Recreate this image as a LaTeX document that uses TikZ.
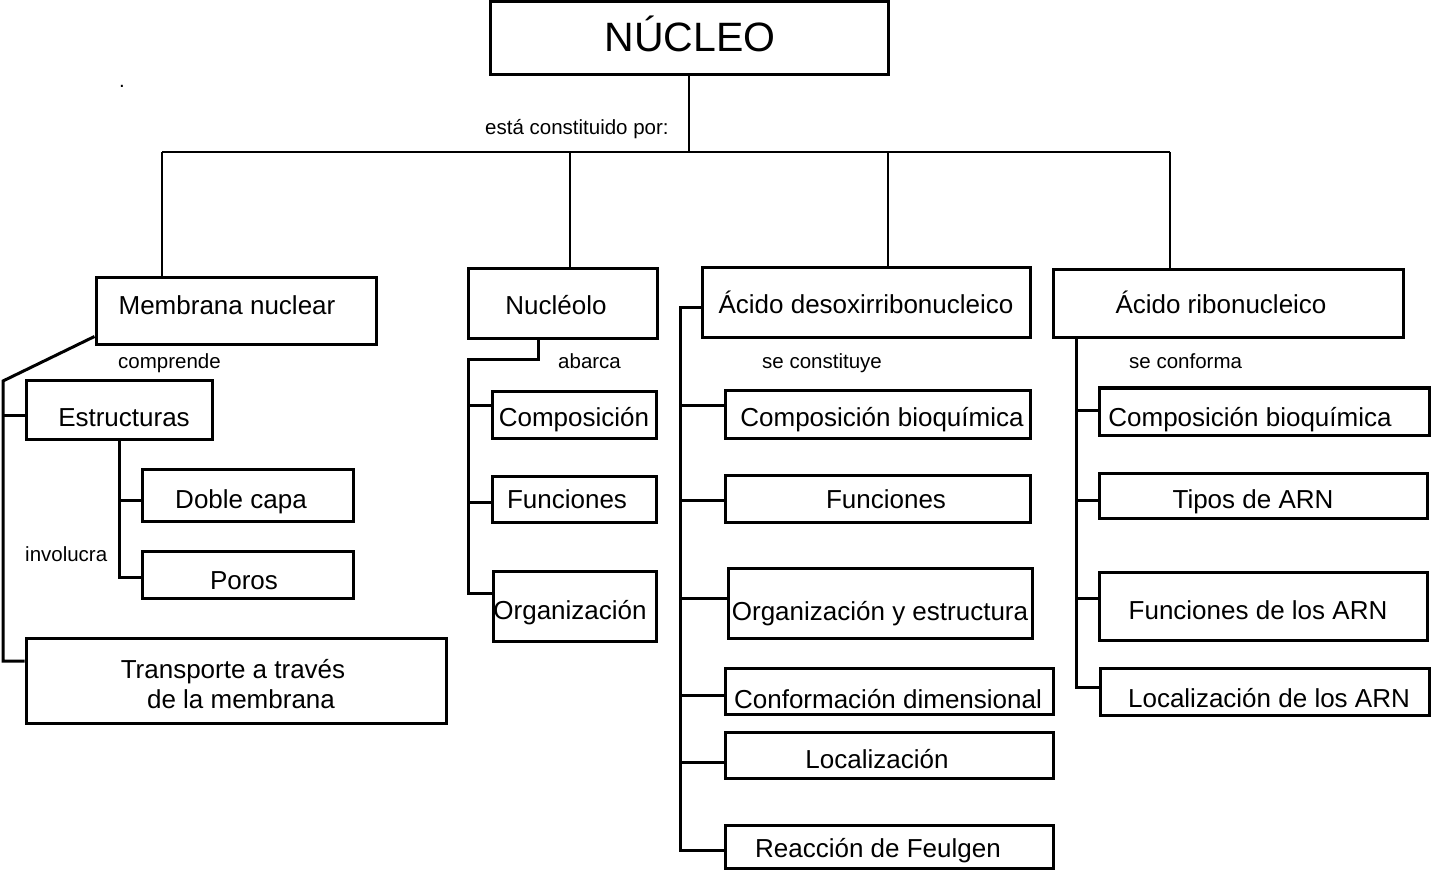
\documentclass[tikz,border=0pt]{standalone}
\usepackage{fontspec}
\setmainfont{Liberation Sans}
\begin{document}
\begin{tikzpicture}[x=1pt,y=-1pt,
  box/.style 2 args={draw, line width=3pt, inner sep=0pt, minimum width=#1pt, minimum height=#2pt},
  txt/.style={anchor=base, inner sep=0pt, font=\fontsize{26}{30}\selectfont},
  small/.style={anchor=base west, inner sep=0pt, font=\fontsize{20.5}{24}\selectfont},
  bus/.style={line width=2pt},
  link/.style={line width=3pt}]
\useasboundingbox (0,0) rectangle (1432,874);

% top concept
\node[box={398}{73}] (nucleo) at (689,38.5) {};
\node[anchor=base, inner sep=0pt, font=\fontsize{41}{46}\selectfont] (nucleo-t) at (690,52) {NÚCLEO};
\node[small] (dot) at (119,88) {.};
\node[small] (lbl-est) at (485,135) {está constituido por:};

% second level
\node[box={280}{67}] (mem) at (236,311.5) {};
\node[txt] (mem-t) at (227,315) {Membrana nuclear};
\node[box={189}{70}] (nucleolo) at (562.5,304) {};
\node[txt] (nucleolo-t) at (556,315) {Nucléolo};
\node[box={328}{70}] (adn) at (866,303) {};
\node[txt] (adn-t) at (866,314) {Ácido desoxirribonucleico};
\node[box={350}{68}] (arn) at (1228,304) {};
\node[txt] (arn-t) at (1221,314) {Ácido ribonucleico};

% bus from the nucleus
\coordinate (busL) at (162,152);
\coordinate (busR) at (1170,152);
\coordinate (bus2) at (570,152);
\coordinate (bus3) at (888,152);
\draw[bus] (nucleo.south) -- (nucleo.south |- busL);
\draw[bus] (busL) -- (busR);
\draw[bus] (busL) -- (busL |- mem.north);
\draw[bus] (bus2) -- (bus2 |- nucleolo.north);
\draw[bus] (bus3) -- (bus3 |- adn.north);
\draw[bus] (busR) -- (busR |- arn.north);

% membrana nuclear branch
\node[small] (lbl-comp) at (118,369) {comprende};
\node[box={186}{58}] (estr) at (119,410) {};
\node[txt] (estr-t) at (124,426) {Estructuras};
\node[box={211}{52}] (doble) at (247.5,495) {};
\node[txt] (doble-t) at (241,508) {Doble capa};
\node[box={211}{47}] (poros) at (247.5,574.5) {};
\node[txt] (poros-t) at (244,589) {Poros};
\node[small] (lbl-inv) at (25,561) {involucra};
\node[box={420}{85}] (trans) at (236,680.5) {};
\node[txt] (trans-t1) at (233,678) {Transporte a través};
\node[txt] (trans-t2) at (241,708) {de la membrana};

\coordinate (m0) at (3,381);
\coordinate (m1) at (3,415);
\coordinate (m2) at (3,661);
\draw[link, line join=miter] ([yshift=10pt]mem.south west) -- (m0) -- (m2) -- (m2 -| trans.west);
\draw[link] (m1) -- (m1 -| estr.west);
\coordinate (e1) at (119,500);
\coordinate (e2) at (119,577);
\draw[link] (estr.south) -- (e2) -- (e2 -| poros.west);
\draw[link] (e1) -- (e1 -| doble.west);

% nucleolo branch
\node[small] (lbl-aba) at (558,369) {abarca};
\node[box={164}{47}] (comp1) at (574,414.5) {};
\node[txt] (comp1-t) at (574,426) {Composición};
\node[box={164}{46}] (fun1) at (574,499) {};
\node[txt] (fun1-t) at (567,508) {Funciones};
\node[box={163}{70}] (org1) at (574.5,606) {};
\node[txt] (org1-t) at (570,619) {Organización};

\coordinate (n0) at (538,360);
\coordinate (n1) at (468,360);
\coordinate (n2) at (468,405);
\coordinate (n3) at (468,502);
\coordinate (n4) at (468,593);
\draw[link] (n0 |- nucleolo.south) -- (n0) -- (n1) -- (n4) -- (n4 -| org1.west);
\draw[link] (n2) -- (n2 -| comp1.west);
\draw[link] (n3) -- (n3 -| fun1.west);

% ADN branch
\node[small] (lbl-sec) at (762,369) {se constituye};
\node[box={305}{48}] (comp2) at (877.5,414) {};
\node[txt] (comp2-t) at (882,426) {Composición bioquímica};
\node[box={305}{47}] (fun2) at (877.5,498.5) {};
\node[txt] (fun2-t) at (886,508) {Funciones};
\node[box={304}{70}] (orgest) at (880,603) {};
\node[txt] (orgest-t) at (880,620) {Organización y estructura};
\node[box={328}{46}] (conf) at (889,691) {};
\node[txt] (conf-t) at (888,708) {Conformación dimensional};
\node[box={328}{46}] (loc) at (889,755) {};
\node[txt] (loc-t) at (877,768) {Localización};
\node[box={328}{43}] (feul) at (889,846.5) {};
\node[txt] (feul-t) at (878,857) {Reacción de Feulgen};

\coordinate (a0) at (680,308);
\coordinate (a1) at (680,405);
\coordinate (a2) at (680,500);
\coordinate (a3) at (680,598);
\coordinate (a4) at (680,695);
\coordinate (a5) at (680,762);
\coordinate (a6) at (680,850);
\draw[link] (a0 -| adn.west) -- (a0) -- (a6) -- (a6 -| feul.west);
\draw[link] (a1) -- (a1 -| comp2.west);
\draw[link] (a2) -- (a2 -| fun2.west);
\draw[link] (a3) -- (a3 -| orgest.west);
\draw[link] (a4) -- (a4 -| conf.west);
\draw[link] (a5) -- (a5 -| loc.west);

% ARN branch
\node[small] (lbl-con) at (1129,369) {se conforma};
\node[box={330}{47}] (comp3) at (1264,411.5) {};
\node[txt] (comp3-t) at (1250,426) {Composición bioquímica};
\node[box={328}{45}] (tipos) at (1263,495.5) {};
\node[txt] (tipos-t) at (1253,508) {Tipos de ARN};
\node[box={328}{68}] (funarn) at (1263,606) {};
\node[txt] (funarn-t) at (1258,619) {Funciones de los ARN};
\node[box={329}{47}] (locarn) at (1264.5,691.5) {};
\node[txt] (locarn-t) at (1269,707) {Localización de los ARN};

\coordinate (r0) at (1076,338);
\coordinate (r1) at (1076,410);
\coordinate (r2) at (1076,500);
\coordinate (r3) at (1076,598);
\coordinate (r4) at (1076,687);
\draw[link] (r0 |- arn.south) -- (r4) -- (r4 -| locarn.west);
\draw[link] (r1) -- (r1 -| comp3.west);
\draw[link] (r2) -- (r2 -| tipos.west);
\draw[link] (r3) -- (r3 -| funarn.west);
\end{tikzpicture}
\end{document}
